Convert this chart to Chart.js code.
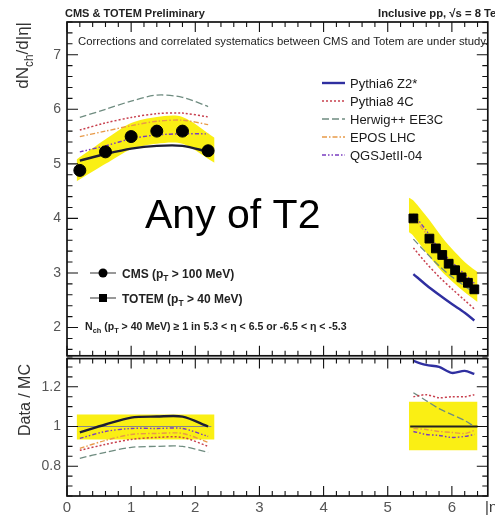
<!DOCTYPE html>
<html>
<head>
<meta charset="utf-8">
<script src="https://cdn.jsdelivr.net/npm/chart.js@4.4.1/dist/chart.umd.min.js"></script>
<style>
  html, body { margin: 0; padding: 0; background: #fff; overflow: hidden; }
  canvas { display: block; }
</style>
</head>
<body>
<canvas id="chart" width="495" height="518"></canvas>
<script>
// ---- measured charged-particle density, dN/d|eta| ----
const CMS_ETA = [0.2, 0.6, 1.0, 1.4, 1.8, 2.2];
const CMS_DNDETA = [4.88, 5.22, 5.5, 5.6, 5.6, 5.24];
const TOTEM_ETA = [5.4, 5.65, 5.75, 5.85, 5.95, 6.05, 6.15, 6.25, 6.35];
const TOTEM_DNDETA = [4.0, 3.63, 3.45, 3.33, 3.17, 3.05, 2.92, 2.82, 2.7];

// ---- systematic uncertainty bands ----
const CMS_BAND_ETA = [0.15, 0.6, 1.0, 1.4, 1.8, 2.3];
const CMS_BAND_HI = [5.08, 5.45, 5.75, 5.86, 5.86, 5.48];
const CMS_BAND_LO = [4.68, 5.0, 5.27, 5.37, 5.37, 5.02];
const TOTEM_BAND_ETA = [5.33, 5.4, 5.65, 5.85, 6.05, 6.25, 6.4];
const TOTEM_BAND_HI = [4.38, 4.33, 3.97, 3.65, 3.38, 3.15, 3.02];
const TOTEM_BAND_LO = [3.75, 3.68, 3.3, 3.02, 2.8, 2.6, 2.47];

// ---- MC predictions, central (CMS_ETA) and forward (MC_ETA_FWD) ----
const MC_ETA_FWD = [5.4, 5.6, 5.8, 6.0, 6.2, 6.35];
const P6_C = [5.06, 5.18, 5.28, 5.33, 5.33, 5.22];
const P6_F = [2.98, 2.78, 2.6, 2.43, 2.27, 2.13];
const P8_C = [5.62, 5.75, 5.85, 5.92, 5.93, 5.86];
const P8_F = [3.46, 3.18, 2.93, 2.71, 2.5, 2.34];
const HW_C = [5.85, 6.0, 6.15, 6.26, 6.22, 6.05];
const HW_F = [3.62, 3.37, 3.13, 2.93, 2.76, 2.64];
const EPOS_C = [5.5, 5.6, 5.7, 5.78, 5.8, 5.72];
const EPOS_F = [4.02, 3.72, 3.38, 3.13, 2.93, 2.76];
const QGS_C = [5.22, 5.33, 5.46, 5.53, 5.55, 5.55];
const QGS_F = [4.08, 3.78, 3.44, 3.2, 2.98, 2.81];

// ---- Data / MC ratios ----
const R_P6_C = [0.97, 1.01, 1.045, 1.05, 1.05, 1.0];
const R_P6_F = [1.33, 1.31, 1.3, 1.27, 1.28, 1.265];
const R_P8_C = [0.88, 0.91, 0.935, 0.945, 0.945, 0.9];
const R_P8_F = [1.15, 1.16, 1.145, 1.15, 1.15, 1.16];
const R_HW_C = [0.84, 0.87, 0.895, 0.9, 0.9, 0.87];
const R_HW_F = [1.17, 1.13, 1.09, 1.06, 1.03, 1.0];
const R_EPOS_C = [0.89, 0.93, 0.96, 0.965, 0.965, 0.92];
const R_EPOS_F = [0.99, 0.985, 0.975, 0.97, 0.965, 0.98];
const R_QGS_C = [0.94, 0.975, 0.99, 0.99, 0.99, 0.95];
const R_QGS_F = [0.975, 0.96, 0.955, 0.945, 0.95, 0.96];
const R_BAND_C_ETA = [0.15, 2.3];
const R_BAND_C_HI = [1.06, 1.06];
const R_BAND_C_LO = [0.935, 0.935];
const R_BAND_F_ETA = [5.33, 6.4];
const R_BAND_F_HI = [1.125, 1.125];
const R_BAND_F_LO = [0.88, 0.88];
const UNITY_C_ETA = [0.0, 2.25];
const UNITY_F_ETA = [5.35, 6.4];
const UNITY = [1, 1];

// ---- axis ticks ----
const X_TICKS = [0, 1, 2, 3, 4, 5, 6];
const Y_TICKS = [2, 3, 4, 5, 6, 7];
const R_TICKS = [0.8, 1, 1.2];

// ---- texts ----
const MODEL_NAMES = ['Pythia6 Z2*', 'Pythia8 4C', 'Herwig++ EE3C', 'EPOS LHC', 'QGSJetII-04'];
const TXT_HEADER_L = 'CMS & TOTEM Preliminary';
const TXT_HEADER_R = 'Inclusive pp, \u221As = 8 TeV';
const TXT_NOTE = 'Corrections and correlated systematics between CMS and Totem are under study.';
const TXT_BIG = 'Any of T2';

const FONT = '"Liberation Sans", Arial, Helvetica, sans-serif';

// line styles for the five generators
const STYLES = [
  { color: '#2f2fa0', central: '#1d1d33', dash: [], width: 2.4 },
  { color: '#c8404e', dash: [2, 2], width: 1.5 },
  { color: '#6f8c80', dash: [7, 3], width: 1.3 },
  { color: '#e89a48', dash: [5, 2, 1.5, 2], width: 1.4 },
  { color: '#7a3cc0', dash: [4, 2, 1.5, 2, 1.5, 2], width: 1.4 },
];
const TOP_SERIES = [[P6_C, P6_F], [P8_C, P8_F], [HW_C, HW_F], [EPOS_C, EPOS_F], [QGS_C, QGS_F]];
const RATIO_SERIES = [[R_P6_C, R_P6_F], [R_P8_C, R_P8_F], [R_HW_C, R_HW_F], [R_EPOS_C, R_EPOS_F], [R_QGS_C, R_QGS_F]];

const xy = (xs, ys) => xs.map((x, i) => ({ x, y: ys[i] }));
const joined = (a, b) => [...a, { x: 3.8, y: null }, ...b];
const YELLOW = 'rgba(250, 238, 0, 0.92)';

const datasets = [];

// markers on top
datasets.push({
  label: 'CMS', yAxisID: 'y', order: 0, showLine: false,
  data: xy(CMS_ETA, CMS_DNDETA),
  pointStyle: 'circle', pointRadius: 6, pointBackgroundColor: '#000', pointBorderColor: '#000'
});
datasets.push({
  label: 'TOTEM', yAxisID: 'y', order: 0, showLine: false,
  data: xy(TOTEM_ETA, TOTEM_DNDETA),
  pointStyle: 'rect', pointRadius: 6.2, pointBackgroundColor: '#000', pointBorderColor: '#000'
});

// generator curves, both panels
MODEL_NAMES.forEach((name, i) => {
  const st = STYLES[i];
  const seg = st.central ? { borderColor: c => (c.p0.parsed.x < 3 ? st.central : st.color) } : undefined;
  [['y', TOP_SERIES[i], CMS_ETA], ['yr', RATIO_SERIES[i], CMS_ETA]].forEach(([axis, ser, xc]) => {
    datasets.push({
      label: name, yAxisID: axis, order: 1,
      data: joined(xy(xc, ser[0]), xy(MC_ETA_FWD, ser[1])),
      borderColor: st.color, borderWidth: st.width, borderDash: st.dash,
      segment: seg, tension: 0.3, pointRadius: 0, fill: false, spanGaps: false
    });
  });
});

// unity reference in the ratio panel
datasets.push({
  label: 'unity', yAxisID: 'yr', order: 1,
  data: joined(xy(UNITY_C_ETA, UNITY), xy(UNITY_F_ETA, UNITY)),
  borderColor: '#333', borderWidth: 1.4, pointRadius: 0, fill: false,
  segment: { borderColor: c => (c.p0.parsed.x < 3 ? '#888' : '#222'), borderWidth: c => (c.p0.parsed.x < 3 ? 1 : 1.8) }
});

// uncertainty bands (drawn underneath)
function band(axis, xs, lo, hi) {
  datasets.push({ label: 'lo', yAxisID: axis, order: 2, data: xy(xs, lo), borderWidth: 0, pointRadius: 0, fill: false, tension: 0.3 });
  datasets.push({ label: 'hi', yAxisID: axis, order: 2, data: xy(xs, hi), borderWidth: 0, pointRadius: 0, fill: '-1', backgroundColor: YELLOW, tension: 0.3 });
}
band('y', CMS_BAND_ETA, CMS_BAND_LO, CMS_BAND_HI);
band('y', TOTEM_BAND_ETA, TOTEM_BAND_LO, TOTEM_BAND_HI);
band('yr', R_BAND_C_ETA, R_BAND_C_LO, R_BAND_C_HI);
band('yr', R_BAND_F_ETA, R_BAND_F_LO, R_BAND_F_HI);

// ---- ROOT-style frame with inward ticks ----
function drawPanel(ctx, xs, ys, minorStep, majorEvery, insetTop, insetBottom) {
  const L = xs.left, R = xs.right, T = ys.top + insetTop, B = ys.bottom - insetBottom;
  ctx.save();
  ctx.strokeStyle = '#111';
  ctx.lineWidth = 1.7;
  ctx.strokeRect(L, T, R - L, B - T);
  ctx.lineWidth = 1.1;
  ctx.beginPath();
  for (let k = 0; k * 0.2 <= xs.max + 1e-9; k++) {
    const px = xs.getPixelForValue(k * 0.2);
    const len = k % 5 === 0 ? 10 : 5;
    ctx.moveTo(px, B); ctx.lineTo(px, B - len);
    ctx.moveTo(px, T); ctx.lineTo(px, T + len);
  }
  const k0 = Math.ceil(ys.min / minorStep - 1e-9), k1 = Math.floor(ys.max / minorStep + 1e-9);
  for (let k = k0; k <= k1; k++) {
    const py = ys.getPixelForValue(k * minorStep);
    const len = k % majorEvery === 0 ? 11 : 5.5;
    ctx.moveTo(L, py); ctx.lineTo(L + len, py);
    ctx.moveTo(R, py); ctx.lineTo(R - len, py);
  }
  ctx.stroke();
  ctx.restore();
}

function fitFont(ctx, text, width, weight) {
  ctx.font = `${weight} 10px ${FONT}`;
  return 10 * width / ctx.measureText(text).width;
}

// text runs with optional subscripts, drawn left to right from (x, y)
function drawRuns(ctx, runs, x, y, size, weight) {
  let cx = x;
  runs.forEach(r => {
    const s = r.sub ? size * 0.7 : size;
    ctx.font = `${weight} ${s}px ${FONT}`;
    ctx.fillText(r.t, cx, y + (r.sub ? size * 0.3 : 0));
    cx += ctx.measureText(r.t).width;
  });
  return cx - x;
}
function runsWidth(ctx, runs, size, weight) {
  let w = 0;
  runs.forEach(r => {
    ctx.font = `${weight} ${r.sub ? size * 0.7 : size}px ${FONT}`;
    w += ctx.measureText(r.t).width;
  });
  return w;
}

const decorPlugin = {
  id: 'decor',
  afterDatasetsDraw(chart) {
    const { ctx, scales } = chart;
    drawPanel(ctx, scales.x, scales.y, 0.2, 5, 0, 1.2);
    drawPanel(ctx, scales.x, scales.yr, 0.05, 4, 1.6, 0);
  },
  afterDraw(chart) {
    const { ctx } = chart;
    ctx.save();
    ctx.fillStyle = '#222';
    ctx.textBaseline = 'alphabetic';
    ctx.textAlign = 'left';

    // header lines
    let fs = fitFont(ctx, TXT_HEADER_L, 140, 'bold');
    ctx.font = `bold ${fs}px ${FONT}`;
    ctx.fillText(TXT_HEADER_L, 65, 17);
    fs = fitFont(ctx, TXT_HEADER_R, 126, 'bold');
    ctx.font = `bold ${fs}px ${FONT}`;
    ctx.fillText(TXT_HEADER_R, 378, 17);
    fs = fitFont(ctx, TXT_NOTE, 411, 'normal');
    ctx.font = `${fs}px ${FONT}`;
    ctx.fillText(TXT_NOTE, 78, 45);

    // generator legend
    MODEL_NAMES.forEach((name, i) => {
      const st = STYLES[i];
      const y = 83 + i * 18;
      ctx.save();
      ctx.strokeStyle = st.color;
      ctx.lineWidth = st.width;
      ctx.setLineDash(st.dash);
      ctx.beginPath(); ctx.moveTo(322, y); ctx.lineTo(345, y); ctx.stroke();
      ctx.restore();
      ctx.font = `13px ${FONT}`;
      ctx.fillStyle = '#1a1a1a';
      ctx.fillText(name, 350, y + 4.5);
    });

    // data legend
    const legY = [273, 298];
    ctx.strokeStyle = '#555';
    ctx.lineWidth = 1.2;
    legY.forEach(y => { ctx.beginPath(); ctx.moveTo(90, y); ctx.lineTo(116, y); ctx.stroke(); });
    ctx.fillStyle = '#000';
    ctx.beginPath(); ctx.arc(103, legY[0], 4.5, 0, Math.PI * 2); ctx.fill();
    ctx.fillRect(99, legY[1] - 4, 8, 8);
    ctx.fillStyle = '#222';
    drawRuns(ctx, [{ t: 'CMS (p' }, { t: 'T', sub: true }, { t: ' > 100 MeV)' }], 122, legY[0] + 4.5, 12, 'bold');
    drawRuns(ctx, [{ t: 'TOTEM (p' }, { t: 'T', sub: true }, { t: ' > 40 MeV)' }], 122, legY[1] + 4.5, 12, 'bold');

    // event selection note
    const selRuns = [{ t: 'N' }, { t: 'ch', sub: true }, { t: ' (p' }, { t: 'T', sub: true },
      { t: ' > 40 MeV) \u2265 1 in 5.3 < \u03B7 < 6.5 or -6.5 < \u03B7 < -5.3' }];
    const selSize = 8 * 262 / runsWidth(ctx, selRuns, 8, 'bold');
    drawRuns(ctx, selRuns, 85, 330, selSize, 'bold');

    // large annotation
    ctx.fillStyle = '#000';
    ctx.font = `41px ${FONT}`;
    ctx.fillText(TXT_BIG, 145, 228);

    // axis titles
    ctx.fillStyle = '#333';
    const yRuns = [{ t: 'dN' }, { t: 'ch', sub: true }, { t: '/d|\u03B7|' }];
    const yw = runsWidth(ctx, yRuns, 17, 'normal');
    ctx.save();
    ctx.translate(28, 22 + yw);
    ctx.rotate(-Math.PI / 2);
    drawRuns(ctx, yRuns, 0, 0, 17, 'normal');
    ctx.restore();

    ctx.save();
    ctx.translate(30, 400);
    ctx.rotate(-Math.PI / 2);
    ctx.textAlign = 'center';
    ctx.font = `16px ${FONT}`;
    ctx.fillText('Data / MC', 0, 0);
    ctx.restore();

    ctx.font = `15px ${FONT}`;
    ctx.fillText('|\u03B7|', 485, 512);
    ctx.restore();
  }
};

const tickFont = { family: FONT, size: 14 };

new Chart(document.getElementById('chart'), {
  type: 'line',
  data: { datasets },
  options: {
    responsive: false,
    animation: false,
    events: [],
    layout: { padding: { top: 22, right: 5, left: 0, bottom: 0 } },
    plugins: { legend: { display: false }, tooltip: { enabled: false } },
    scales: {
      x: {
        type: 'linear', min: 0, max: 6.56,
        grid: { display: false, drawTicks: false }, border: { display: false },
        afterFit: s => { s.height = 22; },
        afterBuildTicks: s => { s.ticks = X_TICKS.map(v => ({ value: v })); },
        ticks: { font: { ...tickFont, size: 15 }, color: '#555', padding: 3, maxRotation: 0 }
      },
      y: {
        type: 'linear', position: 'left', stack: 'pads', stackWeight: 335, weight: 2,
        min: 1.46, max: 7.6,
        grid: { display: false, drawTicks: false }, border: { display: false },
        afterFit: s => { s.width = 67; },
        afterBuildTicks: s => { s.ticks = Y_TICKS.map(v => ({ value: v })); },
        ticks: { font: tickFont, color: '#555', padding: 6 }
      },
      yr: {
        type: 'linear', position: 'left', stack: 'pads', stackWeight: 139, weight: 1,
        min: 0.65, max: 1.35,
        grid: { display: false, drawTicks: false }, border: { display: false },
        afterFit: s => { s.width = 67; },
        afterBuildTicks: s => { s.ticks = R_TICKS.map(v => ({ value: v })); },
        ticks: { font: tickFont, color: '#555', padding: 6, callback: v => String(v) }
      }
    }
  },
  plugins: [decorPlugin]
});
</script>
</body>
</html>
